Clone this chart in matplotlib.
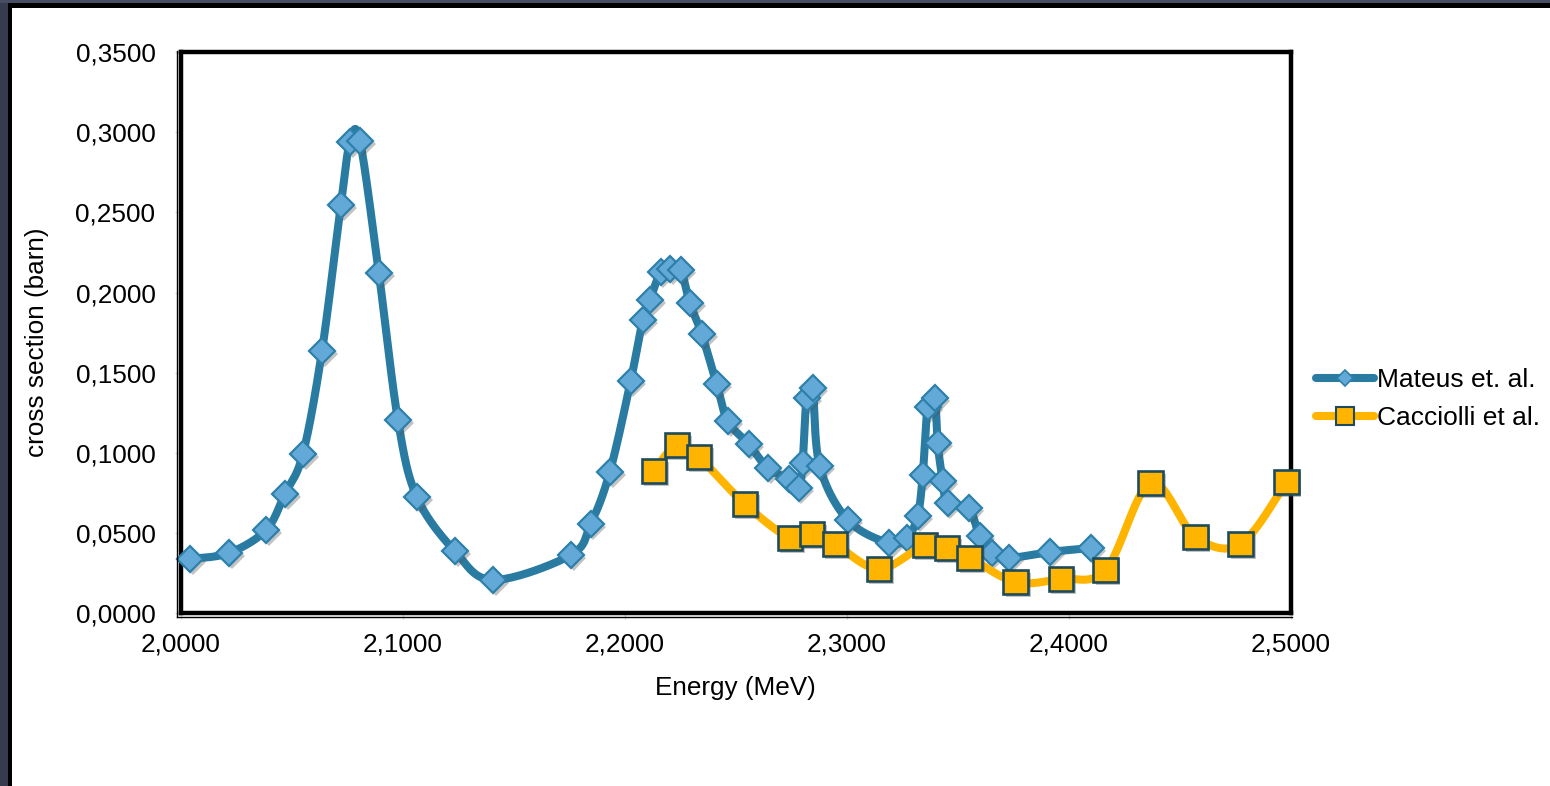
import numpy as np
import matplotlib
matplotlib.use("Agg")
import matplotlib.pyplot as plt
from matplotlib.lines import Line2D
from matplotlib.patches import Rectangle
from matplotlib.ticker import FuncFormatter
import matplotlib.patheffects as pe

plt.rcParams['font.family'] = ['Liberation Sans', 'DejaVu Sans']

# ---- data -------------------------------------------------------------
mateus_energy = [2.0043, 2.0218, 2.0385, 2.0470, 2.0551, 2.0637, 2.0722, 2.0763,
                 2.0808, 2.0893, 2.0979, 2.1064, 2.1235, 2.1406, 2.1757, 2.1847,
                 2.1933, 2.2027, 2.2081, 2.2113, 2.2162, 2.2203, 2.2252, 2.2293,
                 2.2347, 2.2414, 2.2464, 2.2558, 2.2644, 2.2738, 2.2783, 2.2801,
                 2.2819, 2.2846, 2.2878, 2.3004, 2.3189, 2.3270, 2.3319, 2.3342,
                 2.3364, 2.3396, 2.3409, 2.3432, 2.3454, 2.3549, 2.3598, 2.3652,
                 2.3729, 2.3913, 2.4098]
mateus_xs = [0.0339, 0.0376, 0.0519, 0.0744, 0.0993, 0.1635, 0.2546, 0.2938,
             0.2945, 0.2122, 0.1205, 0.0725, 0.0388, 0.0208, 0.0363, 0.0557,
             0.0881, 0.1448, 0.1829, 0.1953, 0.2128, 0.2147, 0.2140, 0.1935,
             0.1741, 0.1430, 0.1199, 0.1055, 0.0906, 0.0837, 0.0781, 0.0937,
             0.1342, 0.1405, 0.0918, 0.0582, 0.0438, 0.0469, 0.0607, 0.0862,
             0.1286, 0.1342, 0.1062, 0.0825, 0.0688, 0.0656, 0.0482, 0.0376,
             0.0345, 0.0382, 0.0407]

cacciolli_energy = [2.2131, 2.2234, 2.2333, 2.2541, 2.2743, 2.2842, 2.2946,
                    2.3144, 2.3351, 2.3450, 2.3553, 2.3760, 2.3963, 2.4165,
                    2.4368, 2.4570, 2.4773, 2.4980]
cacciolli_xs = [0.0887, 0.1049, 0.0974, 0.0681, 0.0469, 0.0494, 0.0432,
                0.0276, 0.0426, 0.0407, 0.0345, 0.0195, 0.0214, 0.0270,
                0.0812, 0.0476, 0.0432, 0.0819]

series_labels = ["Mateus et. al.", "Cacciolli et al."]
x_ticks = [2.0, 2.1, 2.2, 2.3, 2.4, 2.5]
y_ticks = [0.0, 0.05, 0.10, 0.15, 0.20, 0.25, 0.30, 0.35]

# ---- styling -----------------------------------------------------------
BLUE_LINE = '#2a7ba2'
BLUE_FACE = '#63a9d7'
BLUE_EDGE = '#2d80aa'
ORANGE = '#ffb400'
SQ_EDGE = '#1e4b5c'
FS = 18.8
LW = 5.8

W, H = 1550, 786


def fx(px):
    return px / W


def fy(py):
    return 1 - py / H


def smooth_curve(x, y, n=24):
    """Cubic Bezier spline through the points (control points at 1/6 of neighbour chords)."""
    pts = np.column_stack([x, y]).astype(float)
    P = np.vstack([pts[0], pts, pts[-1]])
    t = np.linspace(0, 1, n)[:, None]
    segs = []
    for i in range(1, len(P) - 2):
        p0, p1, p2, p3 = P[i - 1], P[i], P[i + 1], P[i + 2]
        c1 = p1 + (p2 - p0) / 6.0
        c2 = p2 - (p3 - p1) / 6.0
        seg = (1 - t) ** 3 * p1 + 3 * (1 - t) ** 2 * t * c1 + 3 * (1 - t) * t ** 2 * c2 + t ** 3 * p2
        segs.append(seg if i == 1 else seg[1:])
    out = np.vstack(segs)
    return out[:, 0], out[:, 1]


fig = plt.figure(figsize=(W / 100, H / 100), dpi=100)
fig.patch.set_facecolor('white')

# dark slide frame along top and left edges
for (x0, y0, w, h, c) in [(0, 0, W, 3, '#474d63'), (0, 3, W, 5, '#000000'),
                          (0, 3, 8, H - 3, '#363b4d'), (8, 3, 4, H - 3, '#000000')]:
    fig.add_artist(Rectangle((fx(x0), fy(y0 + h)), w / W, h / H,
                             transform=fig.transFigure, facecolor=c,
                             edgecolor='none', zorder=0))

ax_left, ax_right, ax_top, ax_bot = 180.5, 1291, 52, 613.3
ax = fig.add_axes([fx(ax_left), fy(ax_bot), (ax_right - ax_left) / W, (ax_bot - ax_top) / H])
ax.set_facecolor('white')
ax.set_xlim(2.0, 2.5)
ax.set_ylim(0.0, 0.35)

shadow = [pe.SimplePatchShadow(offset=(2.0, -2.0), shadow_rgbFace='#555555', alpha=0.35), pe.Normal()]

# Mateus series
sx, sy = smooth_curve(mateus_energy, mateus_xs)
ax.plot(sx, sy, color=BLUE_LINE, lw=LW, solid_capstyle='round', solid_joinstyle='round', zorder=3)
ax.plot(mateus_energy, mateus_xs, linestyle='none', marker='D', ms=13.2,
        mfc=BLUE_FACE, mec=BLUE_EDGE, mew=1.6, zorder=4, clip_on=False,
        path_effects=shadow)

# Cacciolli series
cx, cy = smooth_curve(cacciolli_energy, cacciolli_xs)
ax.plot(cx, cy, color=ORANGE, lw=LW, solid_capstyle='round', solid_joinstyle='round', zorder=5)
ax.plot(cacciolli_energy, cacciolli_xs, linestyle='none', marker='s', ms=17.5,
        mfc=ORANGE, mec=SQ_EDGE, mew=1.9, zorder=6, clip_on=False,
        path_effects=shadow)

# axes frame and ticks
for s in ax.spines.values():
    s.set_linewidth(3.2)
    s.set_color('black')
    s.set_zorder(2)

ax.set_xticks(x_ticks)
ax.set_yticks(y_ticks)
fmt = FuncFormatter(lambda v, p: f"{v:.4f}".replace('.', ','))
ax.xaxis.set_major_formatter(fmt)
ax.yaxis.set_major_formatter(fmt)
ax.tick_params(axis='both', direction='out', length=4.5, width=1, color='#d0d0d0',
               labelsize=FS, labelcolor='black')
ax.tick_params(axis='x', pad=9.5)
ax.tick_params(axis='y', pad=13.5)

ax.set_xlabel("Energy (MeV)", fontsize=FS, labelpad=14)
fig.text(fx(37), fy(342), "cross section (barn)", rotation=90, ha='center', va='center',
         fontsize=FS)

# thin outer rule along left and bottom edges of the frame
fig.add_artist(Line2D([fx(177.3), fx(177.3)], [fy(ax_top - 1), fy(616.5)],
                      transform=fig.transFigure, color='black', lw=1.0))
fig.add_artist(Line2D([fx(177.3), fx(ax_right + 1)], [fy(616.5), fy(616.5)],
                      transform=fig.transFigure, color='black', lw=1.0))

# legend
handles = [
    Line2D([], [], color=BLUE_LINE, lw=LW, solid_capstyle='round', marker='D', ms=8.5,
           mfc=BLUE_FACE, mec=BLUE_EDGE, mew=1.2),
    Line2D([], [], color=ORANGE, lw=LW, solid_capstyle='round', marker='s', ms=12.5,
           mfc=ORANGE, mec=SQ_EDGE, mew=1.5),
]
fig.legend(handles, series_labels, loc='center left', bbox_to_anchor=(fx(1316), fy(399)),
           frameon=False, borderpad=0, borderaxespad=0, handlelength=2.2,
           handletextpad=0.12, labelspacing=0.55, fontsize=FS + 0.2)

fig.savefig("out.png", dpi=100, facecolor=fig.get_facecolor())
